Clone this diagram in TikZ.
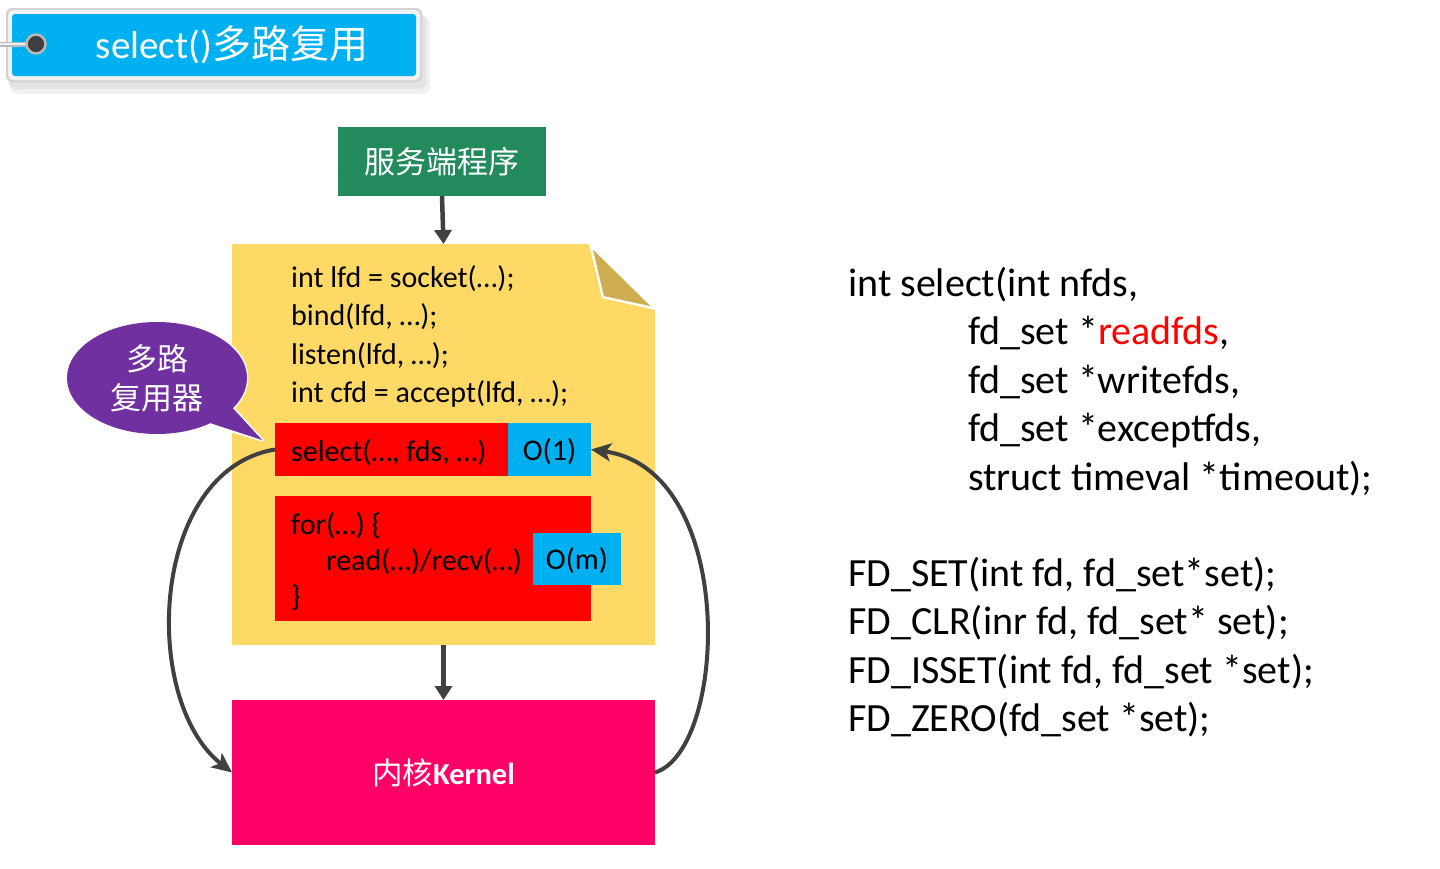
\documentclass[tikz,border=0pt]{standalone}
\usepackage{fontspec}
\setmainfont{Carlito}
\newfontfamily\cjk{Noto Sans CJK SC}
\usetikzlibrary{arrows.meta}
\definecolor{tblue}{HTML}{00B0F0}
\definecolor{tred}{HTML}{FF0000}
\definecolor{tyellow}{HTML}{FFD966}
\definecolor{tfold}{HTML}{CFAE52}
\definecolor{tkern}{HTML}{FF0066}
\definecolor{tgreen}{HTML}{238A5E}
\definecolor{tpurple}{HTML}{7030A0}
\definecolor{tarrow}{HTML}{404040}
\begin{document}
\begin{tikzpicture}[x=1pt,y=-1pt,
  box/.style={inner sep=0pt, outer sep=0pt},
  codeline/.style={anchor=base west, inner sep=0pt, font=\fontsize{30}{36}\selectfont},
  sigline/.style={anchor=base west, inner sep=0pt, font=\fontsize{40}{48}\selectfont},
  downarrow/.style={draw=tarrow, line width=4.5pt, -{Triangle[length=14pt,width=17pt]}},
  curvearrow/.style={draw=tarrow, line width=4pt, -{Stealth[length=20pt,width=18pt,inset=5pt]}}
]
\useasboundingbox (0,0) rectangle (1440,868);

% title banner
\fill[gray!12, rounded corners=8pt] (10,16) rectangle (430,94);
\fill[gray!22, rounded corners=7pt] (9,14) rectangle (426,89);
\fill[gray!35, rounded corners=6pt] (6,8) rectangle (422,82);
\fill[gray!10, rounded corners=5pt] (8,10) rectangle (420,80);
\node[box, fill=tblue, rounded corners=3pt, minimum width=404pt, minimum height=62pt,
      text=white, font=\fontsize{39}{44}\selectfont] (title) at (214,45)
      {\hspace*{36pt}select(){\cjk 多路复用}};
\draw[gray!55, line width=5pt] (0,44) -- (34,44);
\draw[gray!10, line width=1.5pt] (0,44) -- (34,44);
\node[circle, box, fill=tarrow, draw=gray!55, line width=2.5pt, minimum size=19pt] (pin) at (36,44) {};

% server program
\node[box, fill=tgreen, minimum width=208pt, minimum height=69pt, text=white,
      font=\cjk\fontsize{31}{36}\selectfont] (server) at (442,161.5) {服务端程序};

% yellow note
\node[box, minimum width=423pt, minimum height=401pt, anchor=north west] (note) at (232,244) {};
\fill[tyellow] (232,244) -- (589,244) -- (602,298) -- (655,310) -- (655,645) -- (232,645) -- cycle;
\filldraw[fill=tfold, draw=white, line width=2pt] (591,246) -- (603,297) -- (654,308) -- cycle;

\node[codeline] (c1) at (291,287) {int lfd = socket(…);};
\node[codeline] (c2) at (291,325.5) {bind(lfd, …);};
\node[codeline] (c3) at (291,364) {listen(lfd, …);};
\node[codeline] (c4) at (291,402.5) {int cfd = accept(lfd, …);};

\node[box, fill=tred, minimum width=234pt, minimum height=53pt] (sel) at (392,449.5) {};
\node[codeline] (seltext) at (291,461) {select(…, fds, …)};
\node[box, fill=tblue, minimum width=83pt, minimum height=53pt, text depth=0pt,
      font=\fontsize{30}{36}\selectfont] (o1) at (549.5,449.5) {O(1)};

\node[box, fill=tred, minimum width=316pt, minimum height=125pt] (forbox) at (433,558.5) {};
\node[codeline] (f1) at (291,534) {for(…) \{};
\node[codeline] (f2) at (326,570) {read(…)/recv(…)};
\node[codeline] (f3) at (291,606) {\}};
\node[box, fill=tblue, minimum width=88pt, minimum height=52pt, text depth=0pt,
      font=\fontsize{30}{36}\selectfont] (om) at (577,559) {O(m)};

% kernel
\node[box, fill=tkern, minimum width=423pt, minimum height=145pt, text=white,
      font=\fontsize{30.5}{34}\selectfont] (kern) at (443.5,772.5) {{\cjk 内核}\textbf{Kernel}};

% bubble
\draw[white, line width=3pt] (157,378) ellipse [x radius=90, y radius=56];
\draw[white, line width=3pt, line join=round] (212,425) -- (262,440) -- (233,408);
\fill[tpurple] (157,378) ellipse [x radius=90, y radius=56];
\fill[tpurple] (207,422) -- (262,440) -- (230,405) -- cycle;
\node[box, text=white, align=center, font=\cjk\fontsize{31}{39}\selectfont] (bubble) at (157,378) {多路\\复用器};

% arrows
\draw[downarrow] (server.south) -- (note.north);
\draw[downarrow] (note.south) -- (kern.north);
\draw[curvearrow] (sel.west) .. controls (150,470) and (140,700) .. (kern.west);
\draw[curvearrow] (kern.east) .. controls (728,750) and (738,470) .. (o1.east);

% signature text
\node[sigline] (s1) at (848,296) {int select(int nfds,};
\node[sigline] (s2) at (968,344.5) {fd\_set *\textcolor{tred}{readfds},};
\node[sigline] (s3) at (968,393) {fd\_set *writefds,};
\node[sigline] (s4) at (968,441.5) {fd\_set *exceptfds,};
\node[sigline] (s5) at (968,490) {struct timeval *timeout);};
\node[sigline] (m1) at (848,586) {FD\_SET(int fd, fd\_set*set);};
\node[sigline] (m2) at (848,634.5) {FD\_CLR(inr fd, fd\_set* set);};
\node[sigline] (m3) at (848,683) {FD\_ISSET(int fd, fd\_set *set);};
\node[sigline] (m4) at (848,731.5) {FD\_ZERO(fd\_set *set);};
\end{tikzpicture}
\end{document}
